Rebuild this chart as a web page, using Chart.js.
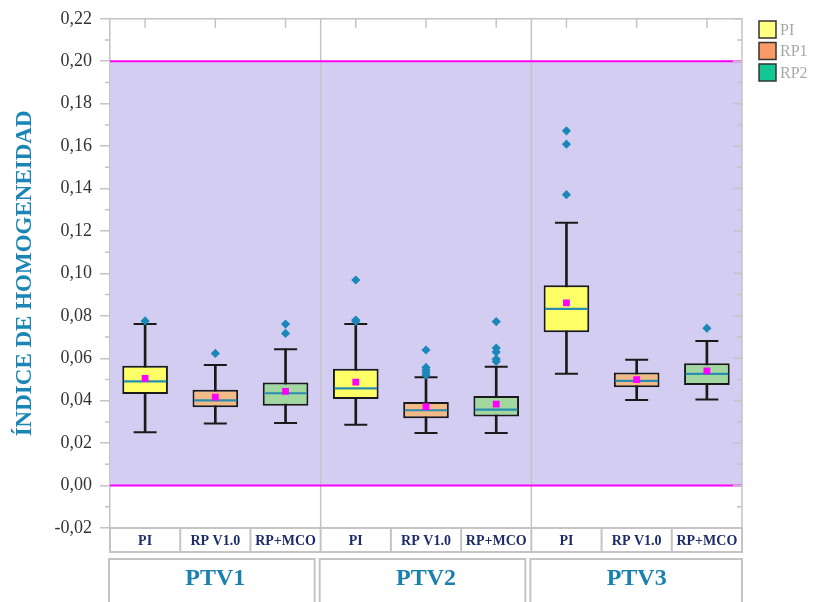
<!DOCTYPE html>
<html>
<head>
<meta charset="utf-8">
<script src="https://cdn.jsdelivr.net/npm/chart.js@4.4.1/dist/chart.umd.min.js"></script>
<style>
  html, body { margin: 0; padding: 0; background: #fff; }
</style>
</head>
<body>
<canvas id="chart-canvas" width="814" height="602"></canvas>
<script>
// ----- values -----
var GROUPS = ["PTV1", "PTV2", "PTV3"];
var METHODS = ["PI", "RP V1.0", "RP+MCO"];
var LEGEND_LABELS = ["PI", "RP1", "RP2"];

// one entry per box: PTV1 PI, PTV1 RP V1.0, PTV1 RP+MCO, PTV2 ..., PTV3 ...
var whiskerLow  = [0.0251, 0.0293, 0.0295, 0.0287, 0.0248, 0.0248, 0.0527, 0.0403, 0.0406];
var q1          = [0.0431, 0.0369, 0.0376, 0.0408, 0.0317, 0.0325, 0.0723, 0.0463, 0.0474];
var median      = [0.0491, 0.0402, 0.0435, 0.0458, 0.0355, 0.0358, 0.0833, 0.0493, 0.0526];
var q3          = [0.0565, 0.0452, 0.0486, 0.0551, 0.0394, 0.0422, 0.0944, 0.0533, 0.0576];
var whiskerHigh = [0.0761, 0.0568, 0.0643, 0.0761, 0.0510, 0.0560, 0.1239, 0.0593, 0.0681];
var mean        = [0.0505, 0.0417, 0.0444, 0.0488, 0.0372, 0.0384, 0.0861, 0.0499, 0.0541];
var outliers = [
  [0.0776],
  [0.0623],
  [0.0761, 0.0717],
  [0.0969, 0.0780, 0.0774],
  [0.0639, 0.0557, 0.0545, 0.0533, 0.0521],
  [0.0773, 0.0648, 0.0629, 0.0596, 0.0585],
  [0.1672, 0.1609, 0.1371],
  [],
  [0.0742]
];

// y axis range and the shaded reference band
var Y_MIN = -0.02, Y_MAX = 0.22, Y_STEP = 0.02, Y_MINOR = 0.01;
var BAND_LOW = 0.00, BAND_HIGH = 0.20;

// ----- styling -----
var SERIF = "'Liberation Serif', 'Times New Roman', serif";
var BOX_COLORS = ["#FFFF66", "#F2BA86", "#A2D8A0"];
var LEGEND_COLORS = ["#FFFF80", "#FA9A66", "#14C896"];
var BOX_FRAC = 0.65;
var FRAME = "#c4c4c4";

// unique category keys (PI etc. repeat in every group)
var labels = [];
GROUPS.forEach(function(g) {
  METHODS.forEach(function(m) { labels.push(g + " " + m); });
});
var boxFill = labels.map(function(_, i) { return BOX_COLORS[i % METHODS.length]; });

function pointsFrom(values) {
  return values.map(function(v, i) { return { x: labels[i], y: v }; });
}
var outlierPoints = [];
outliers.forEach(function(list, i) {
  list.forEach(function(v) { outlierPoints.push({ x: labels[i], y: v }); });
});

function halfBox(ctx) {
  var xs = ctx.chart.scales.x;
  return (xs.right - xs.left) / labels.length * BOX_FRAC / 2 - 1.5;
}

// band, separators, frame, minor ticks, category cells and legend
var decorPlugin = {
  id: "decor",
  beforeDatasetsDraw: function(chart) {
    var ctx = chart.ctx, a = chart.chartArea, y = chart.scales.y, x = chart.scales.x;
    var yTop = y.getPixelForValue(BAND_HIGH), yBot = y.getPixelForValue(BAND_LOW);
    var step = (x.right - x.left) / labels.length;
    ctx.save();
    ctx.fillStyle = "#D3CDF1";
    ctx.fillRect(a.left, yTop, a.right - a.left, yBot - yTop);

    // vertical separators between PTV groups
    ctx.strokeStyle = FRAME;
    ctx.lineWidth = 1.5;
    for (var g = 1; g < GROUPS.length; g++) {
      var gx = x.getPixelForValue(g * METHODS.length) - step / 2;
      ctx.beginPath();
      ctx.moveTo(gx, a.top);
      ctx.lineTo(gx, a.bottom);
      ctx.stroke();
    }

    ctx.strokeStyle = "#FF00FF";
    ctx.lineWidth = 2;
    [yTop, yBot].forEach(function(py) {
      ctx.beginPath();
      ctx.moveTo(a.left, py);
      ctx.lineTo(a.right, py);
      ctx.stroke();
    });
    ctx.restore();
  },
  afterDraw: function(chart) {
    var ctx = chart.ctx, a = chart.chartArea, y = chart.scales.y, x = chart.scales.x;
    var step = (x.right - x.left) / labels.length;
    ctx.save();
    ctx.strokeStyle = FRAME;
    ctx.lineWidth = 1.5;

    // top and right frame
    ctx.beginPath();
    ctx.moveTo(a.left, a.top);
    ctx.lineTo(a.right, a.top);
    ctx.lineTo(a.right, a.bottom);
    ctx.stroke();

    // minor ticks left (outside) and all ticks right (inside)
    var n = Math.round((Y_MAX - Y_MIN) / Y_MINOR);
    for (var k = 0; k <= n; k++) {
      var v = Y_MIN + k * Y_MINOR;
      var py = y.getPixelForValue(v);
      var major = (k % 2 === 0);
      ctx.beginPath();
      if (!major) {
        ctx.moveTo(a.left - 5, py);
        ctx.lineTo(a.left, py);
      }
      ctx.moveTo(a.right - (major ? 9 : 5), py);
      ctx.lineTo(a.right, py);
      ctx.stroke();
    }

    // ticks on the top edge at each box
    for (var i = 0; i < labels.length; i++) {
      var cx = x.getPixelForValue(i);
      ctx.beginPath();
      ctx.moveTo(cx, a.top);
      ctx.lineTo(cx, a.top + 9);
      ctx.stroke();
    }

    // category row
    var rowTop = a.bottom, rowBot = a.bottom + 24;
    ctx.lineWidth = 2;
    ctx.strokeRect(a.left, rowTop, a.right - a.left, rowBot - rowTop);
    for (var j = 1; j < labels.length; j++) {
      var bx = x.getPixelForValue(j) - step / 2;
      ctx.beginPath();
      ctx.moveTo(bx, rowTop);
      ctx.lineTo(bx, rowBot);
      ctx.stroke();
    }
    ctx.fillStyle = "#1d2d6b";
    ctx.font = "bold 14px " + SERIF;
    ctx.textAlign = "center";
    ctx.textBaseline = "middle";
    for (var m = 0; m < labels.length; m++) {
      ctx.fillText(METHODS[m % METHODS.length], x.getPixelForValue(m), rowTop + 13);
    }

    // group boxes
    var gTop = a.bottom + 31;
    ctx.font = "bold 24px " + SERIF;
    ctx.fillStyle = "#1a80ae";
    for (var g = 0; g < GROUPS.length; g++) {
      var gl = x.getPixelForValue(g * METHODS.length) - step / 2;
      var gr = x.getPixelForValue((g + 1) * METHODS.length - 1) + step / 2;
      var left = gl - 1, right = (g === GROUPS.length - 1) ? gr : gr - 6;
      ctx.strokeRect(left, gTop, right - left, 60);
      ctx.fillText(GROUPS[g], (gl + gr) / 2, gTop + 20);
    }

    // legend
    ctx.textAlign = "left";
    ctx.font = "16px " + SERIF;
    for (var l = 0; l < LEGEND_LABELS.length; l++) {
      var ly = 21 + l * 21.5;
      ctx.fillStyle = LEGEND_COLORS[l];
      ctx.fillRect(759, ly, 17, 17);
      ctx.strokeStyle = "#333";
      ctx.lineWidth = 1.5;
      ctx.strokeRect(759, ly, 17, 17);
      ctx.fillStyle = "#a8a8a8";
      ctx.fillText(LEGEND_LABELS[l], 780, ly + 9.5);
    }
    ctx.restore();
  }
};

var ctx = document.getElementById("chart-canvas").getContext("2d");
new Chart(ctx, {
  type: "bar",
  data: {
    labels: labels,
    datasets: [
      {
        // means
        type: "scatter",
        data: pointsFrom(mean),
        pointStyle: "rect",
        pointRadius: 4.8,
        pointBackgroundColor: "#FF00FF",
        pointBorderWidth: 0,
        order: 1
      },
      {
        // outliers
        type: "scatter",
        data: outlierPoints,
        pointStyle: "rectRot",
        pointRadius: 4.6,
        pointBackgroundColor: "#1B87B8",
        pointBorderWidth: 0,
        order: 2
      },
      {
        // medians
        type: "scatter",
        data: pointsFrom(median),
        pointStyle: "line",
        pointRadius: halfBox,
        pointBorderColor: "#2A8DB0",
        pointBorderWidth: 2.2,
        order: 3
      },
      {
        // whisker caps
        type: "scatter",
        data: pointsFrom(whiskerLow).concat(pointsFrom(whiskerHigh)),
        pointStyle: "line",
        pointRadius: 11.5,
        pointBorderColor: "#1a1a1a",
        pointBorderWidth: 2,
        order: 3
      },
      {
        // boxes q1..q3
        type: "bar",
        data: q1.map(function(v, i) { return [v, q3[i]]; }),
        backgroundColor: boxFill,
        borderColor: "#1a1a1a",
        borderWidth: 2,
        borderSkipped: false,
        barPercentage: BOX_FRAC,
        categoryPercentage: 1,
        grouped: false,
        order: 4
      },
      {
        // whisker stems
        type: "bar",
        data: whiskerLow.map(function(v, i) { return [v, whiskerHigh[i]]; }),
        backgroundColor: "#1a1a1a",
        barThickness: 2,
        grouped: false,
        order: 5
      }
    ]
  },
  options: {
    responsive: false,
    animation: false,
    events: [],
    devicePixelRatio: 1,
    layout: { padding: { top: 17, right: 72, bottom: 0, left: 0 } },
    plugins: {
      legend: { display: false },
      tooltip: { enabled: false }
    },
    scales: {
      x: {
        afterFit: function(scale) { scale.height = 74; },
        grid: { display: false },
        border: { display: false },
        ticks: { display: false }
      },
      y: {
        min: Y_MIN,
        max: Y_MAX,
        afterFit: function(scale) { scale.width = 110; },
        border: { color: FRAME, width: 1.5 },
        grid: { drawOnChartArea: false, tickLength: 10, color: FRAME, lineWidth: 1.5 },
        ticks: {
          stepSize: Y_STEP,
          padding: 8,
          color: "#333",
          font: { family: SERIF, size: 18 },
          callback: function(v) {
            if (Math.abs(v) < 1e-9) v = 0;
            return v.toFixed(2).replace(".", ",");
          }
        },
        title: {
          display: true,
          text: "ÍNDICE DE HOMOGENEIDAD",
          color: "#1b86b6",
          font: { family: SERIF, size: 23, weight: "bold" },
          padding: { top: 11, bottom: 0 }
        }
      }
    }
  },
  plugins: [decorPlugin]
});
</script>
</body>
</html>
